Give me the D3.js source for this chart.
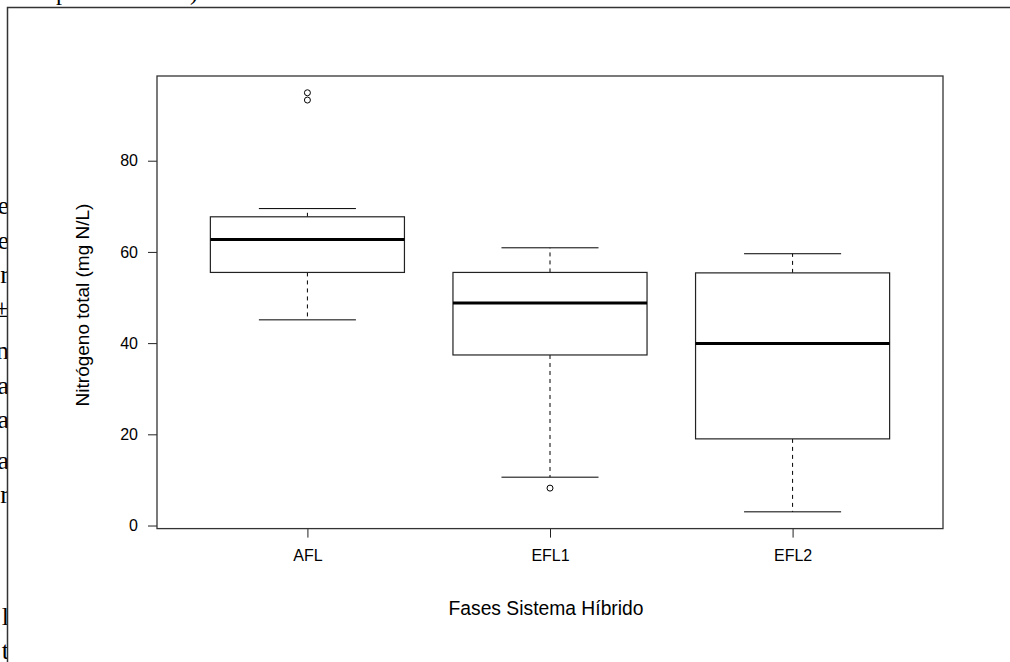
<!DOCTYPE html>
<html>
<head>
<meta charset="utf-8">
<script src="https://cdn.jsdelivr.net/npm/d3@7"></script>
<style>
  html, body { margin: 0; padding: 0; background: #fff; }
  svg { display: block; }
</style>
</head>
<body>
<div id="chart"></div>
<script>
// Boxplot summary per phase
const groups = ['AFL', 'EFL1', 'EFL2'];
const whiskerLow = [45.1, 10.6, 3.0];
const q1 = [55.5, 37.4, 19.0];
const medians = [62.7, 48.8, 39.9];
const q3 = [67.7, 55.5, 55.4];
const whiskerHigh = [69.5, 60.9, 59.6];
const outliers = [[93.3, 94.9], [8.2], []];
const yTicks = [0, 20, 40, 60, 80];

// Fragments of the surrounding document page, cut off by the frame
const sideText = ['ne', 'e', 'r', '±', 'n', 'a', 'a', 'a', 'r', 'l', 't'];
const sideBase = [214, 249, 283, 317, 359, 394, 428, 469, 503, 625, 659];
const topText = ['p', ')'];
const topX = [56, 190];

const width = 1010, height = 662;
const plot = { left: 157, right: 943, top: 76, bottom: 528.6 };
const sans = '"Liberation Sans", Arial, Helvetica, sans-serif';
const serif = '"Liberation Serif", "Times New Roman", serif';

const svg = d3.select('#chart').append('svg')
  .attr('width', width)
  .attr('height', height);

// Page fragments (left margin and top), clipped by the frame
const defs = svg.append('defs');
defs.append('clipPath').attr('id', 'leftClip')
  .append('rect').attr('x', 0).attr('y', 0).attr('width', 7).attr('height', height);
defs.append('clipPath').attr('id', 'topClip')
  .append('rect').attr('x', 0).attr('y', 0).attr('width', width).attr('height', 6.5);

svg.append('g').attr('clip-path', 'url(#leftClip)')
  .selectAll('text')
  .data(sideText)
  .enter()
  .append('text')
  .attr('x', 9)
  .attr('y', (d, i) => sideBase[i])
  .attr('text-anchor', 'end')
  .attr('font-family', serif)
  .attr('font-size', 26)
  .attr('fill', '#000')
  .text(d => d);

svg.append('g').attr('clip-path', 'url(#topClip)')
  .selectAll('text')
  .data(topText)
  .enter()
  .append('text')
  .attr('x', (d, i) => topX[i])
  .attr('y', 0)
  .attr('font-family', serif)
  .attr('font-size', 24)
  .attr('fill', '#000')
  .text(d => d);

// Outer frame (top and left only)
svg.append('path')
  .attr('d', `M7.5,${height}V7.5H${width}`)
  .attr('fill', 'none')
  .attr('stroke', '#333')
  .attr('stroke-width', 1.5);

// Scales (R-style: 4% extension on the value range)
const lo = d3.min(whiskerLow.concat(...outliers));
const hi = d3.max(whiskerHigh.concat(...outliers));
const pad = (hi - lo) * 0.04;
const y = d3.scaleLinear()
  .domain([lo - pad, hi + pad])
  .range([plot.bottom, plot.top]);

const x = d3.scalePoint()
  .domain(groups)
  .range([plot.left, plot.right])
  .padding(0.62);
const boxW = x.step() * 0.8;
const capW = boxW * 0.5;

// Axes
const yAxis = svg.append('g')
  .attr('transform', `translate(${plot.left},0)`)
  .call(d3.axisLeft(y).tickValues(yTicks).tickSize(9).tickPadding(10).tickFormat(d3.format('d')));
const xAxis = svg.append('g')
  .attr('transform', `translate(0,${plot.bottom})`)
  .call(d3.axisBottom(x).tickSize(9).tickPadding(12));

[yAxis, xAxis].forEach(g => {
  g.select('.domain').remove();
  g.selectAll('.tick line').attr('stroke', '#222').attr('stroke-width', 1);
  g.selectAll('.tick text')
    .attr('fill', '#000')
    .attr('font-family', sans)
    .attr('font-size', 16);
});

// Plot frame
svg.append('rect')
  .attr('x', plot.left)
  .attr('y', plot.top)
  .attr('width', plot.right - plot.left)
  .attr('height', plot.bottom - plot.top)
  .attr('fill', 'none')
  .attr('stroke', '#333')
  .attr('stroke-width', 1.3);

// Boxes
const rows = groups.map((g, i) => ({
  g, lo: whiskerLow[i], q1: q1[i], med: medians[i], q3: q3[i], hi: whiskerHigh[i], out: outliers[i]
}));

const box = svg.selectAll('g.box')
  .data(rows)
  .enter()
  .append('g')
  .attr('class', 'box');

// dashed whiskers
box.append('line')
  .attr('x1', d => x(d.g)).attr('x2', d => x(d.g))
  .attr('y1', d => y(d.q3)).attr('y2', d => y(d.hi))
  .attr('stroke', '#000').attr('stroke-dasharray', '4,4');
box.append('line')
  .attr('x1', d => x(d.g)).attr('x2', d => x(d.g))
  .attr('y1', d => y(d.q1)).attr('y2', d => y(d.lo))
  .attr('stroke', '#000').attr('stroke-dasharray', '4,4');

// caps
['lo', 'hi'].forEach(k => {
  box.append('line')
    .attr('x1', d => x(d.g) - capW / 2).attr('x2', d => x(d.g) + capW / 2)
    .attr('y1', d => y(d[k])).attr('y2', d => y(d[k]))
    .attr('stroke', '#000').attr('stroke-width', 1);
});

box.append('rect')
  .attr('x', d => x(d.g) - boxW / 2)
  .attr('y', d => y(d.q3))
  .attr('width', boxW)
  .attr('height', d => y(d.q1) - y(d.q3))
  .attr('fill', '#fff')
  .attr('stroke', '#222')
  .attr('stroke-width', 1.2);

box.append('line')
  .attr('x1', d => x(d.g) - boxW / 2).attr('x2', d => x(d.g) + boxW / 2)
  .attr('y1', d => y(d.med)).attr('y2', d => y(d.med))
  .attr('stroke', '#000').attr('stroke-width', 3);

box.selectAll('circle')
  .data(d => d.out.map(v => ({ g: d.g, v })))
  .enter()
  .append('circle')
  .attr('cx', d => x(d.g))
  .attr('cy', d => y(d.v))
  .attr('r', 3)
  .attr('fill', 'none')
  .attr('stroke', '#000')
  .attr('stroke-width', 1);

// Axis titles
svg.append('text')
  .attr('x', (plot.left + plot.right) / 2 - 4)
  .attr('y', 615)
  .attr('text-anchor', 'middle')
  .attr('font-family', sans)
  .attr('font-size', 19.3)
  .attr('fill', '#000')
  .text('Fases Sistema Híbrido');

svg.append('text')
  .attr('transform', 'translate(89,305) rotate(-90)')
  .attr('text-anchor', 'middle')
  .attr('font-family', sans)
  .attr('font-size', 19)
  .attr('fill', '#000')
  .text('Nitrógeno total (mg N/L)');
</script>
</body>
</html>
